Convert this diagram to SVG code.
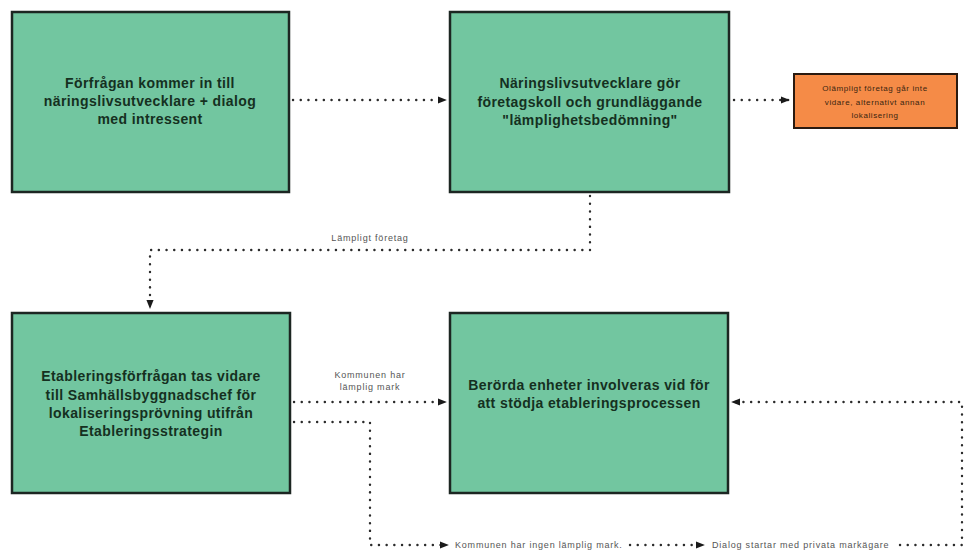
<svg xmlns="http://www.w3.org/2000/svg" width="964" height="557" viewBox="0 0 964 557">
<defs>
<style>
.box{fill:#72C6A0;stroke:#1c2622;stroke-width:2.5}
.orange{fill:#F58B47;stroke:#2a1a10;stroke-width:2}
.t{font-family:"Liberation Sans",Arial,sans-serif;font-weight:bold;font-size:14px;letter-spacing:0.4px;fill:#15301f;text-anchor:middle}
.ot{font-family:"Liberation Sans",Arial,sans-serif;font-size:8px;letter-spacing:0.6px;fill:#3a2510;text-anchor:middle}
.lbl{font-family:"Liberation Sans",Arial,sans-serif;font-size:9px;letter-spacing:0.8px;fill:#555;text-anchor:middle}
.lblL{font-family:"Liberation Sans",Arial,sans-serif;font-size:9px;letter-spacing:0.8px;fill:#555;text-anchor:start}
.c{fill:none;stroke:#2b2b2b;stroke-width:2.4;stroke-linecap:round;stroke-dasharray:0.1 7.6}
</style>
<marker id="ah" viewBox="0 0 10 10" refX="9" refY="5" markerWidth="9" markerHeight="9" markerUnits="userSpaceOnUse" orient="auto">
<path d="M0,1 L10,5 L0,9 z" fill="#1a1a1a"/>
</marker>
</defs>
<rect width="964" height="557" fill="#ffffff"/>
<g id="n1">
<rect class="box" x="12" y="12" width="277" height="180"/>
<text class="t" x="150" y="88">Förfrågan kommer in till</text>
<text class="t" x="150" y="106">näringslivsutvecklare + dialog</text>
<text class="t" x="150" y="124">med intressent</text>
</g>
<g id="n2">
<rect class="box" x="450" y="12" width="279" height="180"/>
<text class="t" x="590" y="88">Näringslivsutvecklare gör</text>
<text class="t" x="590" y="107">företagskoll och grundläggande</text>
<text class="t" x="590" y="125">"lämplighetsbedömning"</text>
</g>
<g id="n3">
<rect class="orange" x="794" y="74" width="163" height="54"/>
<text class="ot" x="875" y="91">Olämpligt företag går inte</text>
<text class="ot" x="875" y="105">vidare, alternativt annan</text>
<text class="ot" x="875" y="118">lokalisering</text>
</g>
<g id="n4">
<rect class="box" x="12" y="313" width="278" height="180"/>
<text class="t" x="151" y="381">Etableringsförfrågan tas vidare</text>
<text class="t" x="151" y="400">till Samhällsbyggnadschef för</text>
<text class="t" x="151" y="418">lokaliseringsprövning utifrån</text>
<text class="t" x="151" y="436">Etableringsstrategin</text>
</g>
<g id="n5">
<rect class="box" x="450" y="313" width="278" height="180"/>
<text class="t" x="589" y="390">Berörda enheter involveras vid för</text>
<text class="t" x="589" y="408">att stödja etableringsprocessen</text>
</g>
<g id="n6">
<text class="lblL" x="455" y="548">Kommunen har ingen lämplig mark.</text>
</g>
<g id="n7">
<text class="lblL" x="712" y="548">Dialog startar med privata markägare</text>
</g>
<g id="connectors">
<path class="c" d="M293,100 H446" marker-end="url(#ah)"/>
<path class="c" d="M734,100 H789" marker-end="url(#ah)"/>
<path class="c" d="M590,196 V250 H150 V308" marker-end="url(#ah)"/>
<text class="lbl" x="370" y="241">Lämpligt företag</text>
<path class="c" d="M294,402 H446" marker-end="url(#ah)"/>
<text class="lbl" x="370" y="378">Kommunen har</text>
<text class="lbl" x="370" y="390">lämplig mark</text>
<path class="c" d="M294,422 H370 V545 H448" marker-end="url(#ah)"/>
<path class="c" d="M630,545 H704" marker-end="url(#ah)"/>
<path class="c" d="M900,545 H962 V402 H732" marker-end="url(#ah)"/>
</g>
</svg>
